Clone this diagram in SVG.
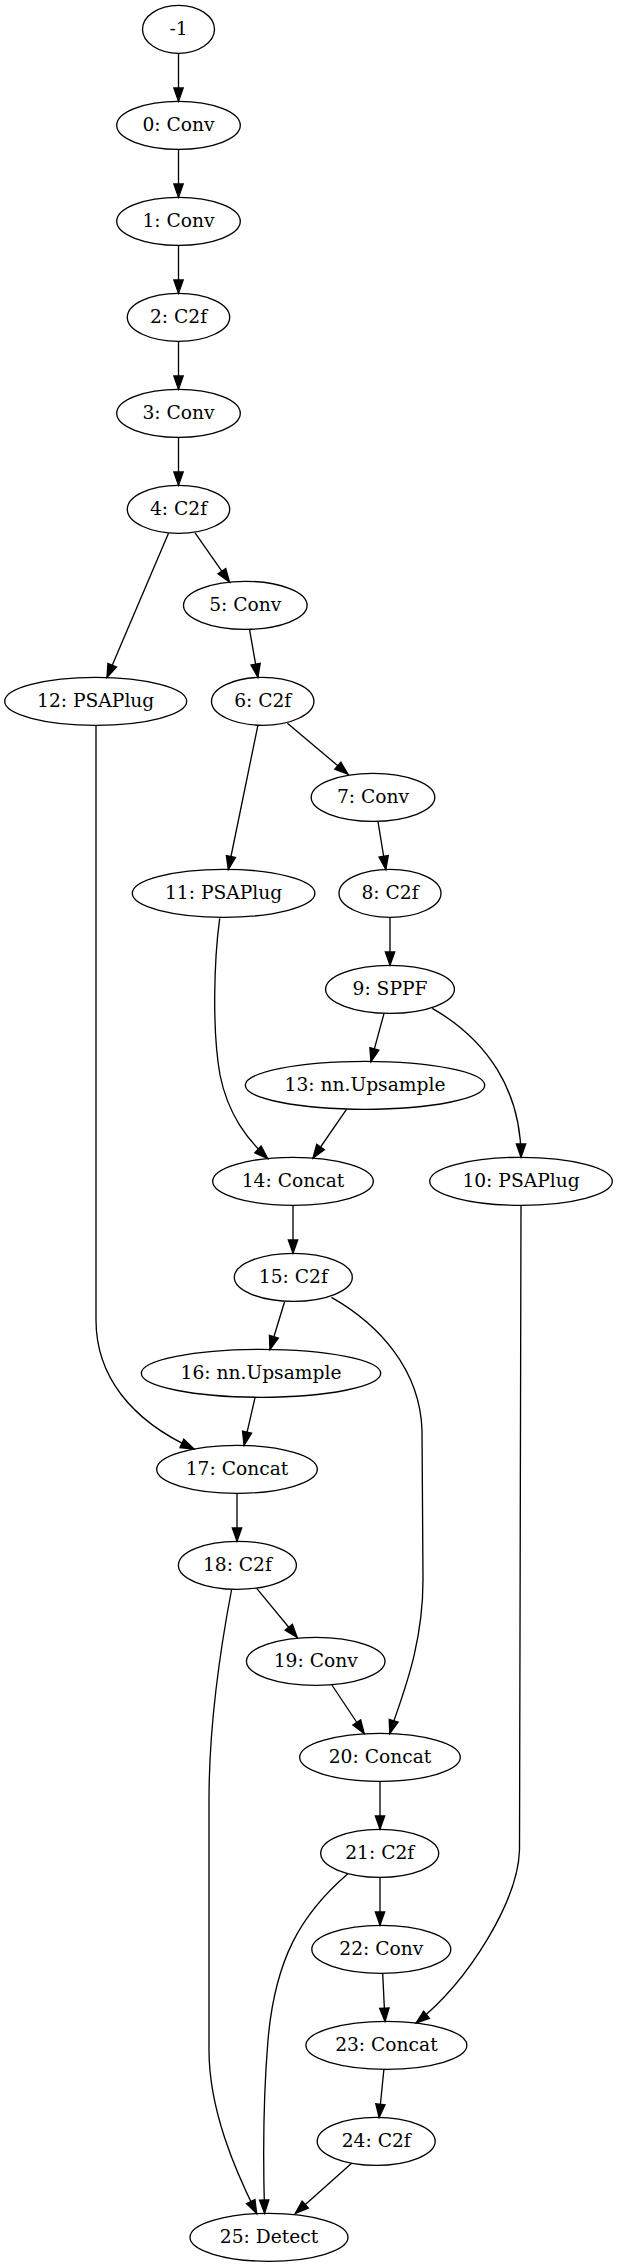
<svg xmlns="http://www.w3.org/2000/svg" width="618" height="2267" viewBox="0 0 618 2267">
<style>
.n ellipse{fill:none;stroke:#000;stroke-width:1.33}
.n text{font-family:"DejaVu Serif","Liberation Serif",serif;font-size:18.67px;text-anchor:middle;fill:#000}
.e path{fill:none;stroke:#000;stroke-width:1.33;marker-end:url(#ah)}
</style>
<defs>
<marker id="ah" markerUnits="userSpaceOnUse" markerWidth="18" markerHeight="14" viewBox="-2 -7 18 14" refX="13.33" refY="0" orient="auto" overflow="visible">
<path d="M0,-4.67 L13.33,0 L0,4.67 Z" fill="#000" stroke="#000" stroke-width="1.33"/>
</marker>
</defs>
<rect x="0" y="0" width="618" height="2267" fill="#fff"/>
<g id="edges" class="e">
<path d="M178.5,53.3 L178.5,101.3"/>
<path d="M178.5,149.3 L178.5,197.3"/>
<path d="M178.5,245.3 L178.5,293.3"/>
<path d="M178.5,341.3 L178.5,389.3"/>
<path d="M178.5,437.3 L178.5,485.3"/>
<path d="M168.5,533.3 L107,677.5"/>
<path d="M194.9,532.7 L229.5,582.1"/>
<path d="M249.6,629.8 L257.9,677.3"/>
<path d="M257.9,725.3 L228.3,869.5"/>
<path d="M287.4,723.3 L348,774.3"/>
<path d="M96,725.3 L96,1320 C96,1375 130,1420 194,1449"/>
<path d="M378,821.7 L385.8,869.5"/>
<path d="M390,917.3 L390,965.3"/>
<path d="M383.9,1013.8 L370.9,1061.7"/>
<path d="M432.3,1008.3 C487,1040 521,1090 521,1157.3"/>
<path d="M219.7,918.3 C214,960 212,1030 220,1075 C228,1115 248,1140 267.7,1158.5"/>
<path d="M346.5,1109.3 L313,1158"/>
<path d="M293,1205.3 L293,1253.3"/>
<path d="M284.6,1301.7 L270,1349.5"/>
<path d="M331.5,1297.3 C380,1325 420,1370 422,1430 L423,1580 C423,1650 400,1700 389.8,1733.5"/>
<path d="M255.1,1397.3 L244.1,1445.2"/>
<path d="M521,1205.3 L519.5,1850 C518,1900 470,1980 416.1,2023"/>
<path d="M237,1493.3 L237,1541.3"/>
<path d="M231.5,1590 C222,1640 209,1720 209,1800 L209,2050 C209,2110 235,2170 256.7,2213.6"/>
<path d="M256.7,1588.3 L297.2,1637.5"/>
<path d="M331.9,1685 L364.2,1733.5"/>
<path d="M380,1781.3 L380,1829.3"/>
<path d="M347.6,1874 C300,1915 275,1960 268,2040 C263,2100 263,2160 264.6,2213.3"/>
<path d="M380,1877.3 L380,1925.3"/>
<path d="M382.7,1973.3 L385,2021.5"/>
<path d="M383.9,2069.3 L379.1,2117.5"/>
<path d="M351.6,2163.3 L295.3,2213.5"/>
</g>
<g id="node_m1" class="n"><ellipse cx="178.5" cy="29.3" rx="36" ry="24"/><text x="178.5" y="34.6">-1</text></g>
<g id="node_0" class="n"><ellipse cx="178.5" cy="125.3" rx="61.8" ry="24"/><text x="178.5" y="130.6">0: Conv</text></g>
<g id="node_1" class="n"><ellipse cx="178.5" cy="221.3" rx="61.8" ry="24"/><text x="178.5" y="226.6">1: Conv</text></g>
<g id="node_2" class="n"><ellipse cx="178.5" cy="317.3" rx="51.2" ry="24"/><text x="178.5" y="322.6">2: C2f</text></g>
<g id="node_3" class="n"><ellipse cx="178.5" cy="413.3" rx="61.8" ry="24"/><text x="178.5" y="418.6">3: Conv</text></g>
<g id="node_4" class="n"><ellipse cx="178.5" cy="509.3" rx="51.2" ry="24"/><text x="178.5" y="514.6">4: C2f</text></g>
<g id="node_5" class="n"><ellipse cx="245.3" cy="605.3" rx="61.8" ry="24"/><text x="245.3" y="610.6">5: Conv</text></g>
<g id="node_12" class="n"><ellipse cx="95.7" cy="701.3" rx="91" ry="24"/><text x="95.7" y="706.6">12: PSAPlug</text></g>
<g id="node_6" class="n"><ellipse cx="262.7" cy="701.3" rx="51.2" ry="24"/><text x="262.7" y="706.6">6: C2f</text></g>
<g id="node_7" class="n"><ellipse cx="373" cy="797.3" rx="61.8" ry="24"/><text x="373" y="802.6">7: Conv</text></g>
<g id="node_11" class="n"><ellipse cx="223.6" cy="893.3" rx="91.3" ry="24"/><text x="223.6" y="898.6">11: PSAPlug</text></g>
<g id="node_8" class="n"><ellipse cx="390" cy="893.3" rx="51" ry="24"/><text x="390" y="898.6">8: C2f</text></g>
<g id="node_9" class="n"><ellipse cx="390" cy="989.3" rx="64.4" ry="24"/><text x="390" y="994.6">9: SPPF</text></g>
<g id="node_13" class="n"><ellipse cx="365" cy="1085.3" rx="119.7" ry="24"/><text x="365" y="1090.6">13: nn.Upsample</text></g>
<g id="node_14" class="n"><ellipse cx="293" cy="1181.3" rx="80.3" ry="24"/><text x="293" y="1186.6">14: Concat</text></g>
<g id="node_10" class="n"><ellipse cx="521" cy="1181.3" rx="91.3" ry="24"/><text x="521" y="1186.6">10: PSAPlug</text></g>
<g id="node_15" class="n"><ellipse cx="293.3" cy="1277.3" rx="59" ry="24"/><text x="293.3" y="1282.6">15: C2f</text></g>
<g id="node_16" class="n"><ellipse cx="261" cy="1373.3" rx="119.7" ry="24"/><text x="261" y="1378.6">16: nn.Upsample</text></g>
<g id="node_17" class="n"><ellipse cx="237" cy="1469.3" rx="80.3" ry="24"/><text x="237" y="1474.6">17: Concat</text></g>
<g id="node_18" class="n"><ellipse cx="237.4" cy="1565.3" rx="59" ry="24"/><text x="237.4" y="1570.6">18: C2f</text></g>
<g id="node_19" class="n"><ellipse cx="315.7" cy="1661.3" rx="69.3" ry="24"/><text x="315.7" y="1666.6">19: Conv</text></g>
<g id="node_20" class="n"><ellipse cx="380" cy="1757.3" rx="80.3" ry="24"/><text x="380" y="1762.6">20: Concat</text></g>
<g id="node_21" class="n"><ellipse cx="379.7" cy="1853.3" rx="59" ry="24"/><text x="379.7" y="1858.6">21: C2f</text></g>
<g id="node_22" class="n"><ellipse cx="381.3" cy="1949.3" rx="69.5" ry="24"/><text x="381.3" y="1954.6">22: Conv</text></g>
<g id="node_23" class="n"><ellipse cx="386.4" cy="2045.3" rx="80.5" ry="24"/><text x="386.4" y="2050.6">23: Concat</text></g>
<g id="node_24" class="n"><ellipse cx="376.2" cy="2141.3" rx="59" ry="24"/><text x="376.2" y="2146.6">24: C2f</text></g>
<g id="node_25" class="n"><ellipse cx="269" cy="2237.3" rx="79" ry="24"/><text x="269" y="2242.6">25: Detect</text></g>
</svg>
